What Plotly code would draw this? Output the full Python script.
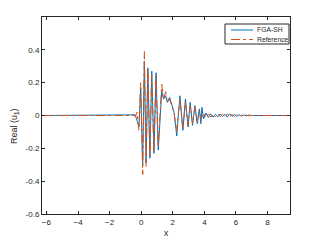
import plotly.graph_objects as go

# FGA-SH (blue, solid) — extrema
x_fga = [-6.28, -0.45, -0.38, -0.27, -0.14, -0.03, 0.09, 0.20, 0.31, 0.42, 0.55, 0.67,
         0.81, 0.94, 1.08, 1.30, 1.42, 1.55, 1.65, 1.80, 1.95, 2.08, 2.25, 2.45, 2.64,
         2.80, 2.97, 3.10, 3.25, 3.40, 3.55, 3.68, 3.78, 3.84, 3.95, 4.10, 4.25, 4.40,
         4.55, 4.70, 4.85, 5.00, 5.15, 5.30, 5.45, 5.60, 5.75, 5.90, 6.05, 6.20, 6.35,
         6.50, 6.65, 6.80, 7.0, 9.42]
y_fga = [0.0, 0.0, 0.004, -0.03, -0.07, 0.17, -0.30, 0.33, -0.29, 0.29, -0.26, 0.27,
         -0.23, 0.26, -0.21, 0.15, 0.10, 0.12, 0.08, 0.11, 0.06, 0.02, -0.125, 0.12, -0.09,
         0.10, -0.07, 0.08, -0.06, 0.06, -0.05, 0.04, -0.05, 0.05, -0.02, 0.015, -0.012,
         0.01, -0.01, 0.008, -0.008, 0.01, -0.006, 0.008, -0.01, 0.01, -0.006, 0.006,
         -0.005, 0.005, -0.004, 0.003, -0.002, 0.002, 0.0, 0.0]

# Reference (orange, dash-dot)
x_ref = [-6.28, -0.45, -0.36, -0.26, -0.15, -0.04, 0.10, 0.20, 0.31, 0.42, 0.55, 0.66,
         0.80, 0.93, 1.07, 1.30, 1.42, 1.55, 1.66, 1.80, 1.95, 2.08, 2.24, 2.44, 2.63,
         2.80, 2.96, 3.10, 3.25, 3.40, 3.55, 3.68, 3.80, 3.95, 4.10, 4.25, 4.40, 4.55,
         4.70, 4.85, 5.00, 5.15, 5.30, 5.45, 5.60, 5.75, 5.90, 6.05, 6.20, 6.35, 6.50,
         6.65, 6.80, 7.0, 9.42]
y_ref = [0.0, 0.0, -0.005, 0.02, -0.09, 0.20, -0.36, 0.39, -0.31, 0.28, -0.25, 0.25,
         -0.22, 0.24, -0.19, 0.19, 0.10, 0.145, 0.08, 0.10, 0.05, 0.02, -0.10, 0.10, -0.08,
         0.08, -0.06, 0.06, -0.05, 0.05, -0.04, 0.03, -0.02, 0.015, -0.012, 0.01, -0.01,
         0.008, -0.008, 0.01, -0.006, 0.008, -0.01, 0.01, -0.006, 0.006, -0.005, 0.005,
         -0.004, 0.003, -0.002, 0.002, -0.001, 0.0, 0.0]

series_names = ["FGA-SH", "Reference"]
series_colors = ["#0072BD", "#D95319"]
series_dash = ["solid", "dashdot"]

x_ticks = [-6, -4, -2, 0, 2, 4, 6, 8]
y_ticks = [-0.6, -0.4, -0.2, 0, 0.2, 0.4]
y_tick_text = ["-0.6", "-0.4", "-0.2", "0", "0.2", "0.4"]

fig = go.Figure()
for xs, ys, nm, col, dsh in zip([x_fga, x_ref], [y_fga, y_ref], series_names,
                                series_colors, series_dash):
    fig.add_trace(go.Scatter(x=xs, y=ys, mode="lines", name=nm,
                             line=dict(color=col, width=1, dash=dsh)))

axis_common = dict(showline=True, linecolor="#262626", linewidth=1, mirror="ticks",
                   ticks="inside", ticklen=3, tickcolor="#262626", showgrid=False,
                   zeroline=False, automargin=False,
                   tickfont=dict(size=8, color="#262626"))

# plot area in pixels
L, R, T, B = 42, 290, 17, 214
def px(xp):
    return (xp - L) / (R - L)
def py(yp):
    return (B - yp) / (B - T)

# compact MATLAB-style legend
shapes = [dict(type="rect", xref="paper", yref="paper",
               x0=px(225), x1=px(289), y0=py(44), y1=py(24),
               line=dict(color="#262626", width=1), fillcolor="white", layer="above")]
annotations = []
for i, (nm, col, dsh) in enumerate(zip(series_names, series_colors, series_dash)):
    yy = 30 + 9.5 * i
    shapes.append(dict(type="line", xref="paper", yref="paper",
                       x0=px(231), x1=px(253), y0=py(yy), y1=py(yy),
                       line=dict(color=col, width=1, dash=dsh), layer="above"))
    annotations.append(dict(text=nm, xref="paper", yref="paper", x=px(254.5), y=py(yy),
                            xanchor="left", yanchor="middle", showarrow=False,
                            font=dict(size=6.8, color="#262626")))

# axis titles
annotations.append(dict(text="x", xref="paper", yref="paper", x=px(166), y=py(233),
                        xanchor="center", yanchor="middle", showarrow=False,
                        font=dict(size=8.5, color="#262626")))
annotations.append(dict(text="Real (u<sub>1</sub>)", xref="paper", yref="paper",
                        x=px(14), y=py(126), textangle=-90,
                        xanchor="center", yanchor="middle", showarrow=False,
                        font=dict(size=9, color="#262626")))

fig.update_layout(
    width=321, height=241,
    margin=dict(l=L, r=321 - R, t=T, b=241 - B, autoexpand=False),
    paper_bgcolor="white", plot_bgcolor="white",
    font=dict(family="Liberation Sans, Arial, sans-serif", size=8, color="#262626"),
    xaxis=dict(range=[-6.28, 9.42], tickvals=x_ticks, **axis_common),
    yaxis=dict(range=[-0.6, 0.6], tickvals=y_ticks, ticktext=y_tick_text,
               **axis_common),
    showlegend=False,
    shapes=shapes,
    annotations=annotations,
)

fig.write_html("out.html", config={"displayModeBar": False},
               post_script="document.body.style.margin='0';document.body.style.overflow='hidden';")
